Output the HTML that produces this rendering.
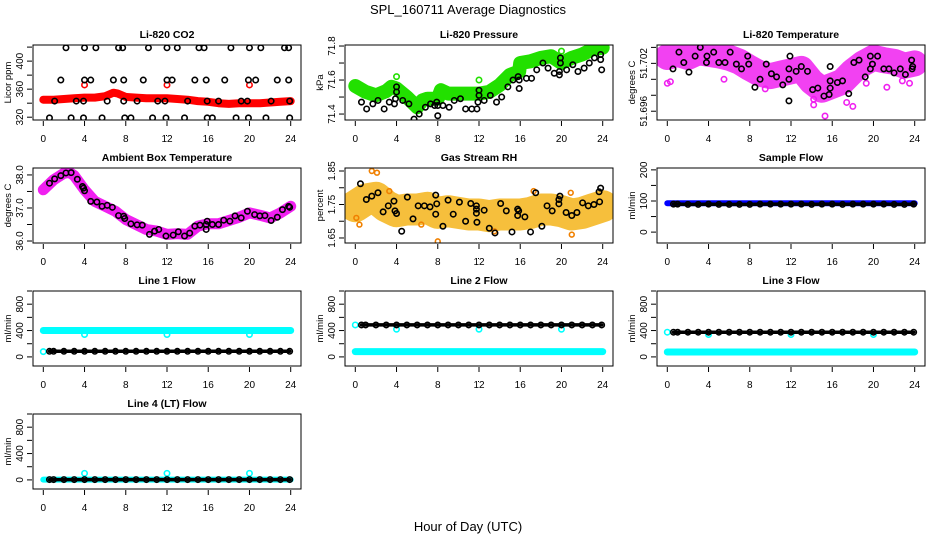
<!DOCTYPE html>
<html><head><meta charset="utf-8">
<style>
html,body{margin:0;padding:0;background:#fff;}
svg{display:block;font-family:"Liberation Sans",Arial,sans-serif;}
</style></head>
<body>
<svg id="chart" width="936" height="540" viewBox="0 0 936 540" xmlns="http://www.w3.org/2000/svg">
<rect width="936" height="540" fill="#fff"/>
<text x="468" y="14" text-anchor="middle" font-size="13">SPL_160711  Average Diagnostics</text>
<text x="468" y="531" text-anchor="middle" font-size="13">Hour of Day (UTC)</text>
<g id="panels"></g>
</svg>
<script>
// ---------- data ----------
const xTicks = [0,4,8,12,16,20,24];

const co2BandX = [0,1,2,3,4,5,6,6.8,7.2,8,9,10,11,12,13,14,15,16,17,18,19,20,21,22,23,24];
const co2BandY = [345,345,346,347,348,348,350,355,354,349,348,347,347,347,346,345,343,342,340,339,340,340,340,341,342,343];
const co2RedOutX = [4,12,20];
const co2RedOutY = [366,366,366];
const co2BlackX = [2.2,4,5.1,7.3,7.7,10.2,12,13,15.1,15.6,18.2,20,21.1,23.4,23.8, 1.7,4,4.6,6.8,7.8,9.7,12,12.5,14.7,15.8,17.6,19.9,20.6,22.7,23.8, 1.1,3.2,3.9,6.2,7.8,9.1,11.1,11.8,14,15.9,17,19.2,19.8,22.1,23.9, 0.6,2.7,3.9,5.7,7.9,8.5,10.6,11.9,13.7,15.9,16.4,18.7,19.9,21.6,23.9];
const co2BlackY = [419,419,419,419,419,419,419,419,419,419,419,419,419,419,419, 373,373,373,373,373,373,373,373,373,373,373,373,373,373,373, 343,343,343,343,343,343,343,343,343,343,343,343,343,343,343, 319,319,319,319,319,319,319,319,319,319,319,319,319,319,319];

const presBandX = [0,1,2,3,3.5,4,5,6,6.5,7,8,8.3,9,10,11,12,13,14,15,15.9,16,17,18,19,20,21,22,23,24];
const presBandY = [71.565,71.53,71.51,71.535,71.56,71.55,71.5,71.44,71.48,71.49,71.49,71.54,71.52,71.52,71.52,71.52,71.53,71.57,71.63,71.65,71.7,71.71,71.73,71.74,71.7,71.73,71.75,71.78,71.79];
const presGreenOutX = [4,12,20];
const presGreenOutY = [71.62,71.6,71.77];
const presBlackX = [0.6,1.1,1.7,2.2,2.8,3.3,3.8,3.9,4,4,4.6,5.2,5.7,6.2,6.8,7.3,7.7,7.9,8,8,8.5,9.1,9.6,10.2,10.7,11.3,11.8,11.9,12,12,12.5,13.1,13.7,14.2,14.8,15.3,15.8,15.9,15.9,16.6,17.1,17.6,18.2,18.7,19.3,19.8,19.8,19.9,19.9,20.5,21.1,21.6,22.2,22.7,23.2,23.8,23.8,23.9];
const presBlackY = [71.47,71.43,71.46,71.48,71.43,71.47,71.46,71.49,71.53,71.56,71.48,71.46,71.37,71.40,71.44,71.46,71.45,71.47,71.39,71.45,71.45,71.44,71.48,71.49,71.43,71.43,71.43,71.47,71.54,71.51,71.48,71.51,71.47,71.5,71.56,71.6,71.62,71.6,71.55,71.61,71.61,71.66,71.7,71.67,71.64,71.63,71.65,71.7,71.73,71.66,71.69,71.65,71.67,71.7,71.73,71.75,71.72,71.66];

const tempBandX = [0,1,2,3,4,5,6,7,8,9,10,11,12,13,14,15,16,17,18,19,20,21,22,23,24];
const tempBandY = [51.7028,51.7032,51.7028,51.7034,51.7032,51.703,51.7027,51.7022,51.7014,51.7007,51.7004,51.7007,51.701,51.7013,51.6997,51.6987,51.6992,51.6997,51.701,51.702,51.7027,51.7024,51.7022,51.7017,51.702];
const tempMagOutX = [0,0.3,14.2,14.2,15.3,17.4,18,19.3,21.3,22.8,23.5,5.5,9.5];
const tempMagOutY = [51.6995,51.6997,51.6968,51.6975,51.6954,51.6971,51.6966,51.6995,51.699,51.6998,51.6995,51.7,51.6988];
const tempBlackX = [0.55,1.13,1.6,2.1,2.7,3.2,3.85,3.8,4.5,5,5.6,6.1,6.7,7.2,7.8,7.9,8.5,9.0,9.6,10.1,10.6,11.2,11.8,11.8,11.8,11.9,12.5,13,13.6,14.1,14.6,15.2,15.7,15.8,15.8,15.8,16.5,17,17.6,18.1,18.6,19.2,19.7,19.7,19.9,20.4,21,21.5,22,22.6,23.1,23.7,23.8,23.75];
const tempBlackY = [51.7013,51.7034,51.7021,51.7009,51.7029,51.704,51.7029,51.7021,51.7034,51.7021,51.7021,51.7034,51.7019,51.7013,51.7029,51.7019,51.699,51.700,51.7019,51.7007,51.7003,51.6993,51.6973,51.700,51.7013,51.7029,51.701,51.7016,51.701,51.6987,51.6989,51.6979,51.6981,51.6989,51.6998,51.7016,51.6996,51.6998,51.6982,51.7021,51.7024,51.7003,51.7013,51.7029,51.7019,51.7029,51.7013,51.7013,51.7008,51.7013,51.7006,51.7024,51.7016,51.7013];

const ambBandX = [0,1,2,2.5,3,4,5,6,7,8,9,10,11,12,13,14,15,16,17,18,19,20,21,22,23,24];
const ambBandY = [37.55,37.85,38.05,38.08,37.98,37.55,37.2,37.05,36.9,36.65,36.5,36.35,36.3,36.2,36.22,36.2,36.45,36.52,36.52,36.62,36.72,36.85,36.78,36.7,36.85,37.05];
const ambBlackX = [0.6,1.1,1.7,2.2,2.7,3.3,3.8,3.9,4,4.6,5.2,5.7,6.2,6.7,7.3,7.8,7.9,8.5,9.1,9.6,10.3,10.8,11.2,11.9,12.6,13.1,13.7,14.2,14.7,15.2,15.8,15.8,15.9,16.4,17,17.5,18.1,18.6,19.2,19.8,20.5,21,21.5,22.1,22.7,23.2,23.8,23.9];
const ambBlackY = [37.75,37.88,37.98,38.06,38.07,37.87,37.65,37.6,37.52,37.2,37.18,37.05,37.08,37.02,36.77,36.75,36.68,36.52,36.49,36.48,36.2,36.3,36.35,36.15,36.18,36.28,36.15,36.24,36.45,36.48,36.35,36.5,36.6,36.5,36.5,36.63,36.6,36.76,36.7,36.9,36.8,36.76,36.77,36.62,36.72,36.95,37.05,37.02];

const rhBandX = [0,1,2,3,4,5,6,7,8,9,10,11,12,13,14,15,16,17,18,19,20,21,22,23,24];
const rhBandY = [1.745,1.765,1.77,1.745,1.73,1.735,1.735,1.74,1.725,1.73,1.725,1.72,1.72,1.715,1.72,1.72,1.72,1.725,1.735,1.735,1.73,1.72,1.725,1.735,1.745];
const rhOutX = [1.6,2.1,0.4,8,21,3.3,6.4,0.1,13.5,17.3,20.9];
const rhOutY = [1.85,1.845,1.69,1.64,1.66,1.79,1.69,1.71,1.67,1.79,1.785];
const rhBlackX = [0.5,1.07,1.6,2.2,2.7,3.2,3.75,3.85,4,4.5,5.05,5.6,6.1,6.7,7.25,7.8,7.8,7.9,8.5,9.0,9.5,10.1,10.7,11.2,11.75,11.75,11.75,11.8,12.5,13,13.55,14.1,14.65,15.2,15.75,15.75,15.85,16.45,17,17.5,18.1,18.6,19.1,19.75,19.75,19.85,20.45,21,21.5,22.05,22.6,23.15,23.65,23.7,23.8];
const rhBlackY = [1.812,1.765,1.775,1.785,1.728,1.746,1.76,1.731,1.723,1.67,1.772,1.707,1.746,1.746,1.743,1.778,1.721,1.752,1.685,1.763,1.721,1.757,1.7,1.753,1.746,1.736,1.724,1.697,1.733,1.679,1.665,1.753,1.731,1.668,1.736,1.717,1.731,1.713,1.668,1.785,1.685,1.746,1.731,1.752,1.765,1.775,1.726,1.717,1.726,1.755,1.746,1.75,1.788,1.758,1.799];

const hours = [0,1,2,3,4,5,6,7,8,9,10,11,12,13,14,15,16,17,18,19,20,21,22,23,24];
const blackHours = [0.6,1,2,3,4,5,6,7,8,9,10,11,12,13,14,15,16,17,18,19,20,21,22,23,23.9];
const sampleBlue = [93,93,93,93,93,93,93,93,93,93,93,93,93,93,93,93,93,93,93,93,93,93,93,93,93];
const sampleBlack = [90,90,89,89,90,89,89,89,89,90,90,90,90,90,89,90,90,89,90,90,90,90,89,89,90];
const line1Cyan = [400,400,400,400,400,400,400,400,400,400,400,400,400,400,400,400,400,400,400,400,400,400,400,400,400];
const line1Black = [85,85,85,85,85,85,85,85,85,85,85,85,85,85,85,85,85,85,85,85,85,85,85,85,85];
const line2CyanLow = [80,80,80,80,80,80,80,80,80,80,80,80,80,80,80,80,80,80,80,80,80,80,80,80,80];
const line2Black = [485,485,485,485,485,485,485,485,485,485,485,485,485,485,485,485,485,485,485,485,485,485,485,485,485];
const line3CyanLow = [75,75,75,75,75,75,75,75,75,75,75,75,75,75,75,75,75,75,75,75,75,75,75,75,75];
const line3Black = [375,375,375,375,375,375,375,375,375,375,375,375,375,375,375,375,375,375,375,375,375,375,375,375,375];
const line4Cyan = [5,5,5,5,5,5,5,5,5,5,5,5,5,5,5,5,5,5,5,5,5,5,5,5,5];
const line4Black = [5,5,5,5,5,5,5,5,5,5,5,5,5,5,5,5,5,5,5,5,5,5,5,5,5];
const dipX = [4,12,20];
const line1Dip = [340,340,340];
const line2Dip = [420,420,420];
const line3Dip = [340,340,340];
const line4Spike = [100,100,100];
const line2CyanStartX = [0];
const line2CyanStartY = [485];
const line3CyanStartY = [375];
const line1CyanStartY = [80];

// ---------- layout ----------
const NS = "http://www.w3.org/2000/svg";
const colX = [33,345,657], rowY = [45,168,291,414], PW = 268, PH = 75;
const root = document.getElementById('panels');
function mk(tag, attrs, parent){const e=document.createElementNS(NS,tag);for(const k in attrs)e.setAttribute(k,attrs[k]);parent.appendChild(e);return e;}

function panel(cfg){
  const L = colX[cfg.col], T = rowY[cfg.row];
  const g = mk('g',{},root);
  
  
  const xs = v => L + 10.3 + v * (247.4/24);
  const ys = v => T + (cfg.top - v) / (cfg.top - cfg.bot) * PH;
  const clipId = 'clip-' + cfg.name;
  const cp = mk('clipPath',{id:clipId},g);
  mk('rect',{x:L,y:T,width:PW,height:PH},cp);
  const title = mk('text',{x:L+PW/2,y:T-7,'text-anchor':'middle','font-size':10.5,'font-weight':'bold'},g);
  title.textContent = cfg.title;
  
  
  const yl = mk('text',{x:0,y:0,'text-anchor':'middle','font-size':9.5,transform:`translate(${L-22},${T+PH/2}) rotate(-90)`},g);
  yl.textContent = cfg.ylab;
  
  
  const xa = mk('g',{},g);
  
  
  xTicks.forEach(t=>{
    mk('line',{x1:xs(t),x2:xs(t),y1:T+PH+1,y2:T+PH+6,stroke:'#000','stroke-width':1},xa);
    const tx = mk('text',{x:xs(t),y:T+PH+22,'text-anchor':'middle','font-size':10},xa);
    tx.textContent = t;
  });
  mk('rect',{x:L+PW/2-1,y:T+PH+15,width:1,height:1,fill:'#000'},xa);
  const ya = mk('g',{},g);
  
  
  cfg.ticks.forEach((t,i)=>{
    mk('line',{x1:L-6,x2:L-1,y1:ys(t),y2:ys(t),stroke:'#000','stroke-width':1},ya);
    if(cfg.tickLabels[i]!==''){
      const tx = mk('text',{x:0,y:0,'text-anchor':'middle','font-size':10,transform:`translate(${L-10},${ys(t)}) rotate(-90)`},ya);
      tx.textContent = cfg.tickLabels[i];
    }
  });
  const plot = mk('g',{'clip-path':`url(#${clipId})`},g);
  cfg.series.forEach(s=>{
    const sg = mk('g',{},plot);
    
    
    if(s.band){
      const d = s.x.map((v,i)=>(i?'L':'M')+xs(v).toFixed(1)+' '+ys(s.y[i]).toFixed(1)).join(' ');
      const p = mk('path',{d:d,fill:'none',stroke:s.color,'stroke-width':s.band,'stroke-linecap':'round','stroke-linejoin':'round',opacity:s.op||1},sg);
      
      
    }
    if(s.points!==false){
      s.x.forEach((v,i)=>{
        const c = mk('circle',{cx:xs(v),cy:ys(s.y[i]),r:s.r||2.7,fill:'none',stroke:s.pcolor||s.color,'stroke-width':s.sw||1.6},sg);
        
        
      });
    }
  });
  const box = mk('rect',{x:L,y:T,width:PW,height:PH,fill:'none',stroke:'#000','stroke-width':1},g);
  
  
}

const flowTicks = [0,200,400,600,800,1000];
const flowLabels = ['0','','400','','800',''];
const RED='#ff0000', MAG='#f020f0', CY='#00ffff';

panel({name:'co2',col:0,row:0,title:'Li-820 CO2',ylab:'Licor ppm',top:423,bot:316,ticks:[320,340,360,380,400,420],tickLabels:['320','','360','','400',''],
  series:[{name:'co2-red',x:co2BandX,y:co2BandY,color:RED,band:8,points:false},
          {name:'co2-red-outliers',x:co2RedOutX,y:co2RedOutY,color:RED},
          {name:'co2-black',x:co2BlackX,y:co2BlackY,color:'#000'}]});
panel({name:'pressure',col:1,row:0,title:'Li-820 Pressure',ylab:'kPa',top:71.806,bot:71.365,ticks:[71.4,71.5,71.6,71.7,71.8],tickLabels:['71.4','','71.6','','71.8'],
  series:[{name:'pressure-green',x:presBandX,y:presBandY,color:'#22e000',band:14,points:false},
          {name:'pressure-green-outliers',x:presGreenOutX,y:presGreenOutY,color:'#22e000'},
          {name:'pressure-black',x:presBlackX,y:presBlackY,color:'#000'}]});
panel({name:'li820-temp',col:2,row:0,title:'Li-820 Temperature',ylab:'degrees C',top:51.7043,bot:51.6949,ticks:[51.696,51.698,51.700,51.702,51.704],tickLabels:['51.696','','','51.702',''],
  series:[{name:'temp-magenta',x:tempBandX,y:tempBandY,color:MAG,band:26,points:false,op:0.85},
          {name:'temp-magenta-outliers',x:tempMagOutX,y:tempMagOutY,color:MAG},
          {name:'temp-black',x:tempBlackX,y:tempBlackY,color:'#000'}]});
panel({name:'ambient',col:0,row:1,title:'Ambient Box Temperature',ylab:'degrees C',top:38.21,bot:35.94,ticks:[36,36.5,37,37.5,38],tickLabels:['36.0','','37.0','','38.0'],
  series:[{name:'ambient-magenta',x:ambBandX,y:ambBandY,color:MAG,band:11,points:false},
          {name:'ambient-black',x:ambBlackX,y:ambBlackY,color:'#000'}]});
panel({name:'rh',col:1,row:1,title:'Gas Stream RH',ylab:'percent',top:1.859,bot:1.635,ticks:[1.65,1.70,1.75,1.80,1.85],tickLabels:['1.65','','1.75','','1.85'],
  series:[{name:'rh-orange',x:rhBandX,y:rhBandY,color:'#f6bf3c',band:32,points:false},
          {name:'rh-orange-outliers',x:rhOutX,y:rhOutY,color:'#f08000',r:2.4},
          {name:'rh-black',x:rhBlackX,y:rhBlackY,color:'#000'}]});
panel({name:'sample-flow',col:2,row:1,title:'Sample Flow',ylab:'ml/min',top:206,bot:-35,ticks:[0,50,100,150,200],tickLabels:['0','','100','','200'],
  series:[{name:'sample-blue',x:hours,y:sampleBlue,color:'#0000ff',band:6,points:false},
          {name:'sample-black',x:blackHours,y:sampleBlack,color:'#000',band:3.5}]});
panel({name:'line1',col:0,row:2,title:'Line 1 Flow',ylab:'ml/min',top:1000,bot:-138,ticks:flowTicks,tickLabels:flowLabels,
  series:[{name:'line1-cyan',x:hours,y:line1Cyan,color:CY,band:7,points:false},
          {name:'line1-cyan-dips',x:dipX,y:line1Dip,color:CY},
          {name:'line1-cyan-start',x:line2CyanStartX,y:line1CyanStartY,color:CY},
          {name:'line1-black',x:blackHours,y:line1Black,color:'#000',band:3.5}]});
panel({name:'line2',col:1,row:2,title:'Line 2 Flow',ylab:'ml/min',top:1000,bot:-138,ticks:flowTicks,tickLabels:flowLabels,
  series:[{name:'line2-cyan',x:hours,y:line2CyanLow,color:CY,band:7,points:false},
          {name:'line2-cyan-dips',x:dipX,y:line2Dip,color:CY},
          {name:'line2-cyan-start',x:line2CyanStartX,y:line2CyanStartY,color:CY},
          {name:'line2-black',x:blackHours,y:line2Black,color:'#000',band:3.5}]});
panel({name:'line3',col:2,row:2,title:'Line 3 Flow',ylab:'ml/min',top:1000,bot:-138,ticks:flowTicks,tickLabels:flowLabels,
  series:[{name:'line3-cyan',x:hours,y:line3CyanLow,color:CY,band:7,points:false},
          {name:'line3-cyan-dips',x:dipX,y:line3Dip,color:CY},
          {name:'line3-cyan-start',x:line2CyanStartX,y:line3CyanStartY,color:CY},
          {name:'line3-black',x:blackHours,y:line3Black,color:'#000',band:3.5}]});
panel({name:'line4',col:0,row:3,title:'Line 4 (LT) Flow',ylab:'ml/min',top:1000,bot:-138,ticks:flowTicks,tickLabels:flowLabels,
  series:[{name:'line4-cyan',x:hours,y:line4Cyan,color:CY,band:6,points:false},
          {name:'line4-cyan-spikes',x:dipX,y:line4Spike,color:CY},
          {name:'line4-black',x:blackHours,y:line4Black,color:'#000',band:3.5}]});
</script>
</body></html>
